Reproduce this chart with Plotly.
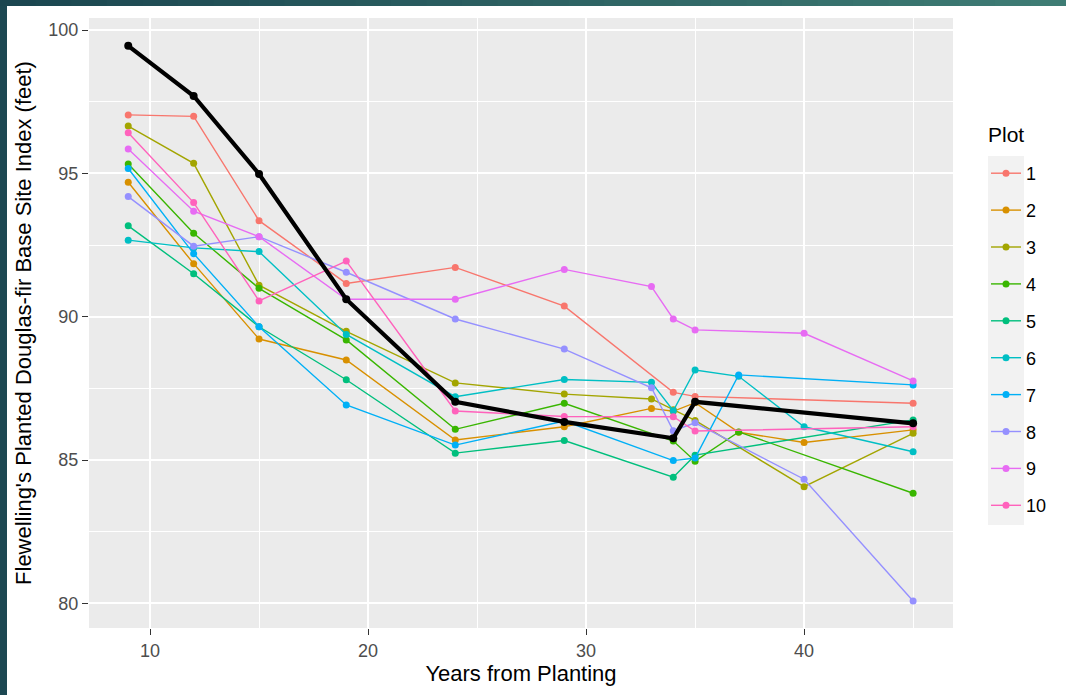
import plotly.graph_objects as go

# ---- data ----
plot_names = ["1", "2", "3", "4", "5", "6", "7", "8", "9", "10"]
plot_colors = ["#F8766D", "#D89000", "#A3A500", "#39B600", "#00BF7D",
               "#00BFC4", "#00B0F6", "#9590FF", "#E76BF3", "#FF62BC"]

years_1 = [9, 12, 15, 19, 24, 29, 34, 35, 45]
site_1 = [97.04, 96.99, 93.35, 91.16, 91.72, 90.37, 87.36, 87.22, 86.98]
years_2 = [9, 12, 15, 19, 24, 29, 33, 34, 35, 37, 40, 45]
site_2 = [94.69, 91.85, 89.22, 88.49, 85.70, 86.16, 86.80, 86.70, 87.00, 85.97, 85.61, 86.05]
years_3 = [9, 12, 15, 19, 24, 29, 33, 34, 35, 40, 45]
site_3 = [96.65, 95.35, 91.10, 89.49, 87.69, 87.30, 87.13, 86.75, 86.38, 84.07, 85.93]
years_4 = [9, 12, 15, 19, 24, 29, 34, 35, 37, 45]
site_4 = [95.33, 92.91, 90.99, 89.19, 86.07, 86.98, 85.66, 84.96, 85.98, 83.84]
years_5 = [9, 12, 15, 19, 24, 29, 34, 35, 45]
site_5 = [93.17, 91.50, 89.65, 87.80, 85.24, 85.68, 84.40, 85.17, 86.40]
years_6 = [9, 12, 15, 19, 24, 29, 33, 34, 35, 37, 40, 45]
site_6 = [92.67, 92.40, 92.27, 89.38, 87.21, 87.81, 87.71, 86.72, 88.14, 87.92, 86.16, 85.29]
years_7 = [9, 12, 15, 19, 24, 29, 34, 35, 37, 45]
site_7 = [95.17, 92.20, 89.65, 86.92, 85.52, 86.36, 84.98, 85.07, 87.97, 87.62]
years_8 = [9, 12, 15, 19, 24, 29, 33, 34, 35, 40, 45]
site_8 = [94.19, 92.46, 92.79, 91.55, 89.92, 88.87, 87.52, 86.02, 86.30, 84.33, 80.08]
years_9 = [9, 12, 15, 19, 24, 29, 33, 34, 35, 40, 45]
site_9 = [95.85, 93.68, 92.79, 90.61, 90.61, 91.65, 91.05, 89.92, 89.54, 89.42, 87.76]
years_10 = [9, 12, 15, 19, 24, 29, 34, 35, 45]
site_10 = [96.42, 93.98, 90.55, 91.94, 86.71, 86.52, 86.51, 86.01, 86.16]

years_overall = [9, 12, 15, 19, 24, 29, 34, 35, 45]
site_overall = [99.45, 97.70, 94.98, 90.61, 87.03, 86.33, 85.76, 87.03, 86.28]

x_ticks = [10, 20, 30, 40]
x_minor = [15, 25, 35, 45]
y_ticks = [80, 85, 90, 95, 100]
y_minor = [82.5, 87.5, 92.5, 97.5]

all_years = [years_1, years_2, years_3, years_4, years_5,
             years_6, years_7, years_8, years_9, years_10]
all_sites = [site_1, site_2, site_3, site_4, site_5,
             site_6, site_7, site_8, site_9, site_10]

FONT = "Liberation Sans, Arial, sans-serif"

fig = go.Figure()
for name, col, xs, ys in zip(plot_names, plot_colors, all_years, all_sites):
    fig.add_trace(go.Scatter(
        x=xs, y=ys, mode="lines+markers", name=name, legendgroup=name,
        line=dict(color=col, width=1.4),
        marker=dict(color=col, size=7),
    ))

fig.add_trace(go.Scatter(
    x=years_overall, y=site_overall, mode="lines+markers", showlegend=False,
    line=dict(color="black", width=4.2),
    marker=dict(color="black", size=8),
))

# plot-area geometry in pixels
L, R, T, B = 89, 953, 18, 628
W, H = 1066, 695

def px(xp):
    return (xp - L) / (R - L)

def py(yp):
    return (B - yp) / (B - T)

shapes = []
# left dark strip
shapes.append(dict(type="rect", xref="paper", yref="paper",
                   x0=px(0), x1=px(7), y0=py(H), y1=py(0),
                   fillcolor="#1C4852", line=dict(width=0), layer="below"))
# top gradient band
left_rgb = (27, 70, 80)
right_rgb = (62, 124, 116)
n_seg = 30
for i in range(n_seg):
    t = i / (n_seg - 1)
    c = tuple(int(round(a + (b - a) * t)) for a, b in zip(left_rgb, right_rgb))
    shapes.append(dict(type="rect", xref="paper", yref="paper",
                       x0=px(W * i / n_seg), x1=px(W * (i + 1) / n_seg + 1),
                       y0=py(6), y1=py(0),
                       fillcolor="rgb(%d,%d,%d)" % c, line=dict(width=0),
                       layer="below"))
# legend key background
shapes.append(dict(type="rect", xref="paper", yref="paper",
                   x0=px(988), x1=px(1024), y0=py(525), y1=py(156),
                   fillcolor="#F2F2F2", line=dict(width=0), layer="below"))

fig.update_layout(
    width=W, height=H,
    margin=dict(l=L, r=W - R, t=T, b=H - B, pad=0, autoexpand=False),
    paper_bgcolor="white", plot_bgcolor="#EBEBEB",
    font=dict(family=FONT, color="black"),
    shapes=shapes,
    annotations=[dict(text="Plot", xref="paper", yref="paper",
                      x=px(986), y=py(135), xanchor="left", yanchor="middle",
                      showarrow=False, font=dict(size=21, color="black"))],
    legend=dict(
        font=dict(size=18, color="black"),
        x=px(986), xanchor="left", y=py(155), yanchor="top",
        tracegroupgap=10.5, bgcolor="rgba(0,0,0,0)",
    ),
    xaxis=dict(
        range=[7.2, 46.83], tickvals=x_ticks, ticks="outside", ticklen=6,
        tickcolor="#333333", tickwidth=1.3,
        tickfont=dict(size=18, color="#4D4D4D"),
        showgrid=True, gridcolor="white", gridwidth=1.6, zeroline=False,
        minor=dict(tickvals=x_minor, showgrid=True, gridcolor="white",
                   gridwidth=0.9, ticks=""),
        title=dict(text="Years from Planting", font=dict(size=22, color="black"),
                   standoff=6),
    ),
    yaxis=dict(
        range=[79.14, 100.42], tickvals=y_ticks, ticks="outside", ticklen=6,
        tickcolor="#333333", tickwidth=1.3,
        tickfont=dict(size=18, color="#4D4D4D"),
        showgrid=True, gridcolor="white", gridwidth=1.6, zeroline=False,
        minor=dict(tickvals=y_minor, showgrid=True, gridcolor="white",
                   gridwidth=0.9, ticks=""),
        title=dict(text="Flewelling's Planted Douglas-fir Base Site Index (feet)",
                   font=dict(size=22, color="black"), standoff=10),
    ),
)

fig.write_html("out.html")
